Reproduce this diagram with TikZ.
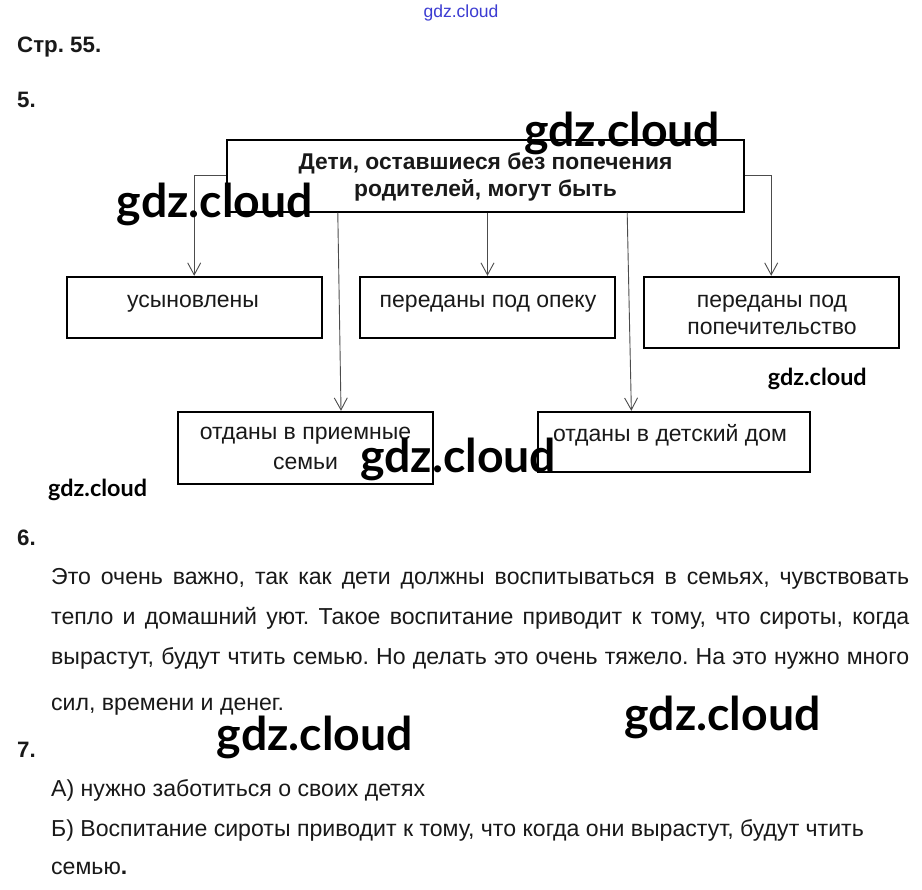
\documentclass[tikz,border=0pt]{standalone}
\usepackage{fontspec}
\setmainfont{Liberation Sans}
\newfontfamily\wmfont{Lato}
\usetikzlibrary{arrows.meta,calc}
\definecolor{ink}{gray}{0.1}
\definecolor{wmblue}{RGB}{60,60,210}
\frenchspacing
\begin{document}
\begin{tikzpicture}[x=1pt,y=-1pt,
  box/.style={draw=black, line width=1.8pt, inner sep=0pt},
  lbl/.style={anchor=base, inner sep=0pt, text=ink, font=\fontsize{23}{27}\selectfont},
  hdr/.style={anchor=base, inner sep=0pt, text=ink, font=\fontsize{22.8}{27}\selectfont\bfseries},
  conn/.style={draw=black!70, line width=0.9pt, -{Straight Barb[length=12pt,width=13pt,line width=0.9pt]}},
  num/.style={anchor=base west, inner sep=0pt, text=ink, font=\fontsize{22.3}{25}\selectfont\bfseries},
  body/.style={anchor=base west, inner sep=0pt, text=ink, font=\fontsize{23.1}{27}\selectfont},
  wm/.style={anchor=base west, inner sep=0pt, text=black, font=\fontsize{46.4}{52}\selectfont\wmfont\bfseries},
  wms/.style={anchor=base west, inner sep=0pt, text=black, font=\fontsize{23.4}{27}\selectfont\wmfont\bfseries}]
\path[fill=white] (0,0) rectangle (922,890);
\useasboundingbox (0,0) rectangle (922,890);

% headings
\node[anchor=base, inner sep=0pt, text=wmblue, font=\fontsize{17.5}{20}\selectfont] (wtop) at (461,18) {gdz.cloud};
\node[num] (h0) at (17,53) {Стр. 55.};
\node[num] (h5) at (17,108) {5.};

% diagram boxes
\node[box, minimum width=517.6pt, minimum height=71.7pt] (top) at (485.5,175.85) {};
\node[hdr] (t1) at (485.5,170) {Дети, оставшиеся без попечения};
\node[hdr] (t2) at (485.5,197) {родителей, могут быть};

\node[box, minimum width=255pt, minimum height=61.6pt] (b1) at (194.2,307.5) {};
\node[lbl] (l1) at (193,308) {усыновлены};

\node[box, minimum width=255pt, minimum height=61.6pt] (b2) at (487.5,307.5) {};
\node[lbl] (l2) at (488,308) {переданы под опеку};

\node[box, minimum width=255pt, minimum height=71.6pt] (b3) at (771.2,312.5) {};
\node[lbl] (l3a) at (772,308) {переданы под};
\node[lbl] (l3b) at (772,335) {попечительство};

\node[box, minimum width=255.6pt, minimum height=72.3pt] (b4) at (305.5,447.85) {};
\node[lbl] (l4a) at (305.5,440) {отданы в приемные};
\node[lbl] (l4b) at (305.5,470) {семьи};

\node[box, minimum width=272.3pt, minimum height=60pt] (b5) at (673.85,441.7) {};
\node[lbl] (l5) at (670,441.7) {отданы в детский дом};

% connectors
\draw[conn] (top.west) -| (b1.north);
\draw[conn] (top.east) -| (b3.north);
\draw[conn] (top.south -| b2.north) -- (b2.north);
\draw[conn] ($(top.south west)!0.2156!(top.south east)$) -- ($(b4.north west)!0.638!(b4.north east)$);
\draw[conn] ($(top.south west)!0.7728!(top.south east)$) -- ($(b5.north west)!0.345!(b5.north east)$);

% task 6
\node[num] (h6) at (17,546) {6.};
\node[body] (p1) at (51,585) {\makebox[858pt][s]{Это очень важно, так как дети должны воспитываться в семьях, чувствовать}};
\node[body] (p2) at (51,625) {\makebox[858pt][s]{тепло и домашний уют. Такое воспитание приводит к тому, что сироты, когда}};
\node[body] (p3) at (51,664) {\makebox[858pt][s]{вырастут, будут чтить семью. Но делать это очень тяжело. На это нужно много}};
\node[body] (p4) at (51,710.7) {сил, времени и денег.};

% task 7
\node[num] (h7) at (17,757) {7.};
\node[body] (q1) at (51,796.7) {А) нужно заботиться о своих детях};
\node[body] (q2) at (51,836) {Б) Воспитание сироты приводит к тому, что когда они вырастут, будут чтить};
\node[body] (q3) at (51,874) {семью\textbf{.}};

% watermarks
\node[wm] (w1) at (524,147) {gdz.cloud};
\node[wm] (w2) at (116.7,218) {gdz.cloud};
\node[wm] (w3) at (360,473) {gdz.cloud};
\node[wm] (w4) at (216.7,750) {gdz.cloud};
\node[wm] (w5) at (624.3,730) {gdz.cloud};
\node[wms] (w6) at (48,497) {gdz.cloud};
\node[wms] (w7) at (767.7,386) {gdz.cloud};
\end{tikzpicture}
\end{document}
